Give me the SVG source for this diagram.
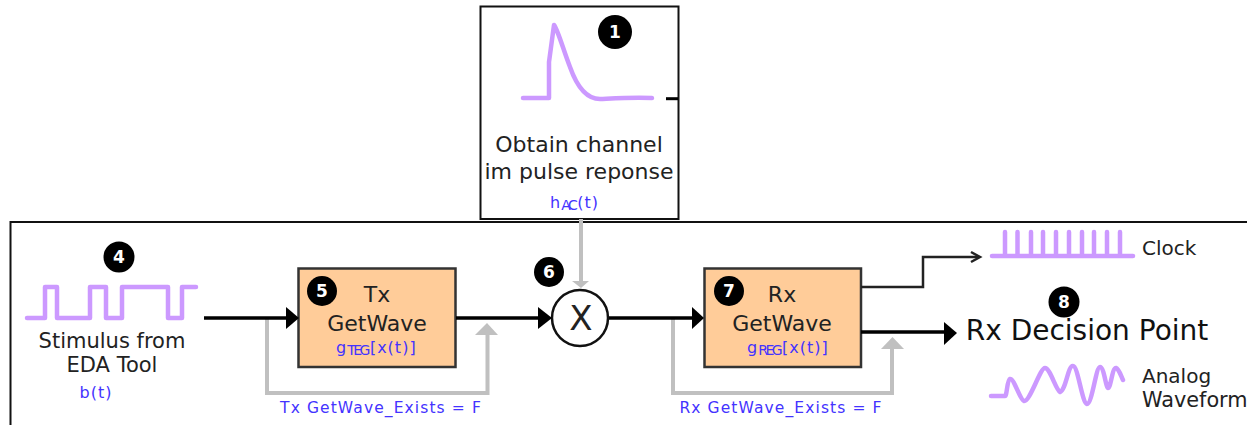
<svg xmlns="http://www.w3.org/2000/svg" width="1247" height="425" viewBox="0 0 1247 425">
<style>
text{font-family:"DejaVu Sans",Verdana,sans-serif;fill:#222;text-anchor:middle}
.lbl{font-size:22px}
.sm{font-size:20px;text-anchor:start}
.blue{font-size:16px;fill:#4433ff;letter-spacing:1px}
.sub{font-size:14px;fill:#4433ff;letter-spacing:-2.500px}
.ex{font-size:15.500px;fill:#4433ff;letter-spacing:1.100px}
.wave{fill:none;stroke:#cc99ff;stroke-width:4.500;stroke-linejoin:round;stroke-linecap:round}
.box{fill:#ffcc99;stroke:#333;stroke-width:2.500}
.k{fill:none;stroke:#000;stroke-width:3.500}
.t{fill:none;stroke:#222;stroke-width:2.500}
.g{fill:none;stroke:#c0c0c0;stroke-width:4}
.hk{fill:#000}.hg{fill:#c0c0c0}
.bc{fill:#000}
.bn{font-size:17px;font-weight:bold;fill:#fff}
</style>
<g id="frame"><path d="M1247 222H10.500V425" fill="none" stroke="#111" stroke-width="2"/></g>
<g id="channel">
<rect x="480.500" y="6.500" width="198" height="212.500" fill="#fff" stroke="#111" stroke-width="2"/>
<path class="wave" d="M523 98H549V62L554 25C558 30 564 52 570 67C576 84 585 99 600 99C620 98 635 97 652 98"/>
<path d="M666 98.700H678" stroke="#000" stroke-width="3"/>
<text class="lbl" x="579" y="152">Obtain channel</text>
<text class="lbl" x="579" y="179">im pulse reponse</text>
<text class="blue" x="550" y="208" style="text-anchor:start">h<tspan class="sub" dy="2">AC</tspan><tspan dy="-2" dx="2">(t)</tspan></text>
</g>
<g id="badge1"><circle class="bc" cx="615" cy="32" r="17"/><text class="bn" x="615" y="38">1</text></g>
<g id="stimulus">
<path class="wave" d="M27 318H45V287H57V318H90V287H106V318H122V287H168V318H182V287H196"/>
<text class="lbl" x="112" y="348" style="font-size:21px">Stimulus from</text>
<text class="lbl" x="112" y="372" style="font-size:21px">EDA Tool</text>
<text class="blue" x="96" y="398">b(t)</text>
</g>
<g id="badge4"><circle class="bc" cx="119" cy="257" r="15.500"/><text class="bn" x="119" y="263">4</text></g>
<g id="tx">
<rect class="box" x="298.500" y="268.500" width="157" height="98.500"/>
<text class="lbl" x="377" y="302">Tx</text>
<text class="lbl" x="377" y="331">GetWave</text>
<text class="blue" x="336" y="353" style="text-anchor:start">g<tspan class="sub" dy="2">TEG</tspan><tspan dy="-2" dx="2">[x(t)]</tspan></text>
</g>
<g id="badge5"><circle class="bc" cx="322" cy="291" r="15"/><text class="bn" x="322" y="297">5</text></g>
<g id="mixer"><circle cx="580" cy="318" r="28" fill="#fff" stroke="#111" stroke-width="2.500"/><text x="581" y="330" style="font-size:34px">X</text></g>
<g id="badge6"><circle class="bc" cx="549" cy="272" r="15"/><text class="bn" x="549" y="278">6</text></g>
<g id="rx">
<rect class="box" x="704.500" y="268.500" width="156.500" height="98.500"/>
<text class="lbl" x="782" y="302">Rx</text>
<text class="lbl" x="782" y="331">GetWave</text>
<text class="blue" x="747" y="353" style="text-anchor:start">g<tspan class="sub" dy="2">REG</tspan><tspan dy="-2" dx="2">[x(t)]</tspan></text>
</g>
<g id="badge7"><circle class="bc" cx="729" cy="291" r="15"/><text class="bn" x="729" y="297">7</text></g>
<g id="decision"><text x="1087" y="340" style="font-size:28px;fill:#111">Rx Decision Point</text></g>
<g id="badge8"><circle class="bc" cx="1064" cy="302" r="15.500"/><text class="bn" x="1064" y="308">8</text></g>
<g id="clock">
<path class="wave" d="M992 256H1133M1005 232V256M1017.500 232V256M1031 232V256M1043 232V256M1056 232V256M1069 232V256M1082 232V256M1094 232V256M1107 232V256M1120 232V256"/>
<text class="sm" x="1142" y="255">Clock</text>
</g>
<g id="analog">
<path class="wave" d="M991 396H1005C1007 396 1007 380 1010 379C1014 378 1020 400 1024 401C1030 402 1040 368 1045 368C1050 368 1056 390 1060 392C1066 390 1068 365 1073 366C1078 366 1082 403 1087 404C1092 404 1096 367 1100 367C1104 367 1106 388 1108 388C1111 388 1112 368 1116 368C1119 369 1121 376 1123 380"/>
<text class="sm" x="1142" y="383">Analog</text>
<text class="sm" x="1142" y="407" style="font-size:20.800px">Waveform</text>
</g>
<g id="connectors">
<path class="g" d="M267 318V393H487.500V334"/>
<path class="hg" d="M475 335L487 323L498 335Z"/>
<path class="g" d="M673 318V393H892V348"/>
<path class="hg" d="M881 349L892.500 337L904 349Z"/>
<path class="g" d="M581 219V282"/>
<path class="hg" d="M572 281H589L581 288Z"/>
<path class="k" d="M204 318H288"/>
<path class="hk" d="M286 307L299 318L286 329Z"/>
<path class="k" d="M456 318H540"/>
<path class="hk" d="M538 307L552 318L538 329Z"/>
<path class="k" d="M609 318H694"/>
<path class="hk" d="M692 307L704 318L692 329Z"/>
<path class="k" d="M861 332H946"/>
<path class="hk" d="M944 322L957 333L944 345Z"/>
<path class="t" d="M861 287H923V257H979"/>
<path class="t" d="M971 252L980 257L971 262"/>
</g>
<g id="labels">
<text class="ex" x="381" y="413">Tx GetWave_Exists = F</text>
<text class="ex" x="781" y="413">Rx GetWave_Exists = F</text>
</g>
</svg>
